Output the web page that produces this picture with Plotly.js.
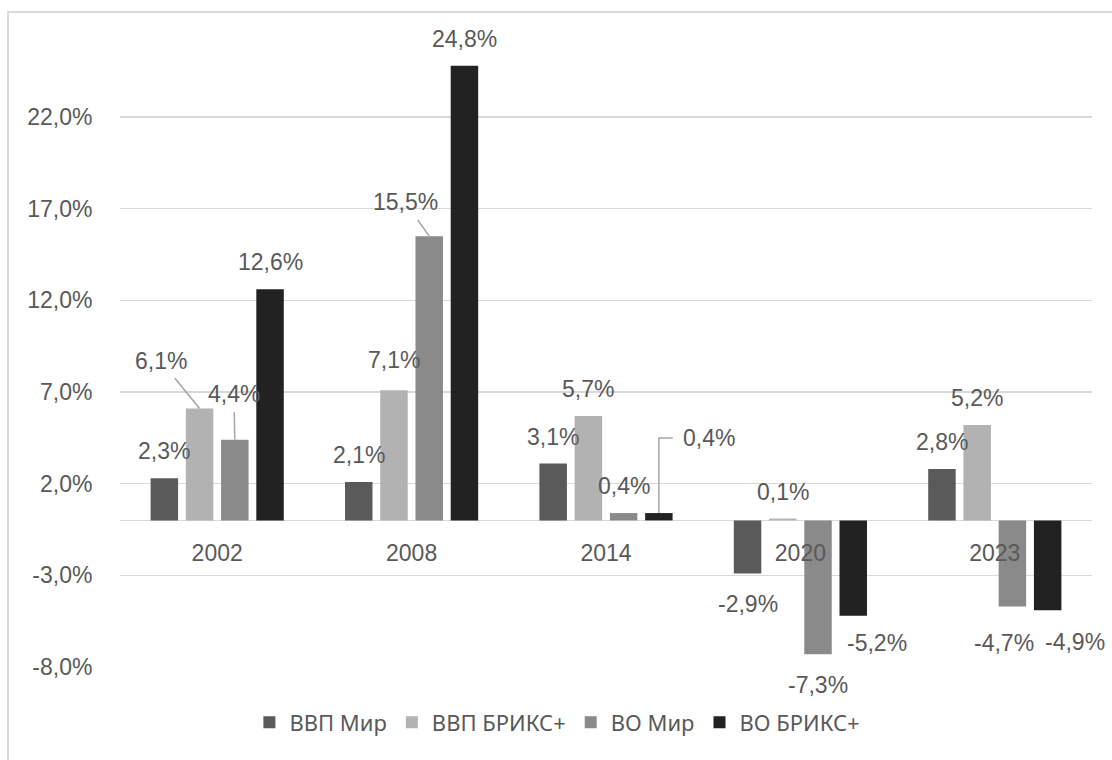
<!DOCTYPE html>
<html><head><meta charset="utf-8">
<script src="https://cdn.plot.ly/plotly-3.0.1.min.js"></script>
<style>
html,body{margin:0;padding:0;overflow:hidden;background:#fff}
#chart{width:1112px;height:760px;position:absolute;left:0;top:0}
#frame{position:absolute;left:7px;top:11px;width:1200px;height:900px;border:2px solid #d9d9d9;pointer-events:none}
</style></head><body>
<div id="chart"></div><div id="frame"></div>
<script>
// ---- data ----
const categories = ['2002', '2008', '2014', '2020', '2023'];
const seriesNames = ['ВВП Мир', 'ВВП БРИКС+', 'ВО Мир', 'ВО БРИКС+'];
const gdpWorld   = [2.3, 2.1, 3.1, -2.9, 2.8];
const gdpBrics   = [6.1, 7.1, 5.7, 0.1, 5.2];
const tradeWorld = [4.4, 15.5, 0.4, -7.3, -4.7];
const tradeBrics = [12.6, 24.8, 0.4, -5.2, -4.9];
const yTickVals  = [-8, -3, 2, 7, 12, 17, 22];

// ---- style ----
const colors = ['#5a5a5a', '#b2b2b2', '#8a8a8a', '#222222'];
const textColor = '#595959';
const numFont = 'Liberation Sans, Arial, sans-serif';
const numSize = 23;
const legendFont = 'Noto Sans, Liberation Sans, sans-serif';
const yRange = [-8.05, 25];
const bargap = 0.275, bargroupgap = 0.22;

const fmt = v => v.toFixed(1).replace('.', ',') + '%';
const allSeries = [gdpWorld, gdpBrics, tradeWorld, tradeBrics];

// label placement tweaks (pixels) keyed "series,category"
const labelTweaks = {
  '1,0': {arrow: [-39, -48]},
  '2,0': {arrow: [-1, -46]},
  '2,1': {arrow: [-24, -34]},
  '1,1': {shift: [0, 30]},
  '3,2': {shift: [50, 75], elbow: 'M0,0V75H14'},
  '3,3': {shift: [24, -27]},
  '2,3': {shift: [0, -31]},
  '2,4': {shift: [-8, -36]},
  '3,4': {shift: [27, -32]}
};

const traces = allSeries.map((vals, j) => ({
  type: 'bar',
  name: seriesNames[j],
  x: categories,
  y: vals,
  marker: {color: colors[j], line: {width: 0}},
  hoverinfo: 'skip'
}));

const slot = (1 - bargap) / 4;
const annotations = [];
const shapes = [];
allSeries.forEach((vals, j) => {
  vals.forEach((v, i) => {
    const xPos = i + (j - 1.5) * slot;
    const t = labelTweaks[j + ',' + i] || {};
    const base = {
      x: xPos, y: v, xref: 'x', yref: 'y',
      text: fmt(v),
      font: {family: numFont, size: numSize, color: textColor}
    };
    if (t.arrow) {
      annotations.push(Object.assign(base, {
        showarrow: true, arrowhead: 0, arrowwidth: 1.5, arrowcolor: '#a6a6a6',
        ax: t.arrow[0], ay: t.arrow[1], standoff: 0, startstandoff: 4
      }));
    } else {
      const s = t.shift || [0, v >= 0 ? 27 : -30];
      annotations.push(Object.assign(base, {
        showarrow: false, xanchor: 'center', yanchor: 'middle',
        xshift: s[0], yshift: s[1]
      }));
    }
    if (t.elbow) {
      shapes.push({
        type: 'path', xref: 'x', yref: 'y',
        xsizemode: 'pixel', ysizemode: 'pixel',
        xanchor: xPos, yanchor: v,
        path: t.elbow,
        line: {color: '#a6a6a6', width: 1.5}
      });
    }
  });
});

const zeroFrac = (0 - yRange[0]) / (yRange[1] - yRange[0]);

const layout = {
  width: 1112, height: 760,
  margin: {l: 120, r: 20, t: 62, b: 92, pad: 0},
  paper_bgcolor: '#ffffff', plot_bgcolor: 'rgba(0,0,0,0)',
  barmode: 'group', bargap: bargap, bargroupgap: bargroupgap,
  font: {family: numFont, size: numSize, color: textColor},
  hovermode: false,
  xaxis: {
    type: 'category', range: [-0.5, categories.length - 0.5], autorange: false,
    anchor: 'free', position: zeroFrac,
    showgrid: false, showline: false, zeroline: false,
    ticks: 'outside', ticklen: 12, tickcolor: 'rgba(0,0,0,0)',
    tickfont: {family: numFont, size: numSize, color: textColor},
    fixedrange: true
  },
  yaxis: {
    range: yRange, autorange: false, tickmode: 'array', tickvals: yTickVals,
    ticktext: yTickVals.map(fmt),
    showgrid: true, gridcolor: '#d9d9d9', gridwidth: 1.5,
    zeroline: true, zerolinecolor: '#d9d9d9', zerolinewidth: 1.5,
    showline: false,
    ticks: 'outside', ticklen: 22, tickcolor: 'rgba(0,0,0,0)',
    tickfont: {family: numFont, size: numSize, color: textColor},
    fixedrange: true
  },
  showlegend: true,
  legend: {
    orientation: 'h', x: 0.45, xanchor: 'center', y: -0.09, yanchor: 'middle',
    font: {family: legendFont, size: 22, color: textColor},
    traceorder: 'normal'
  },
  annotations: annotations,
  shapes: shapes
};

Plotly.newPlot('chart', traces, layout, {displayModeBar: false, staticPlot: true});
</script>
</body></html>
